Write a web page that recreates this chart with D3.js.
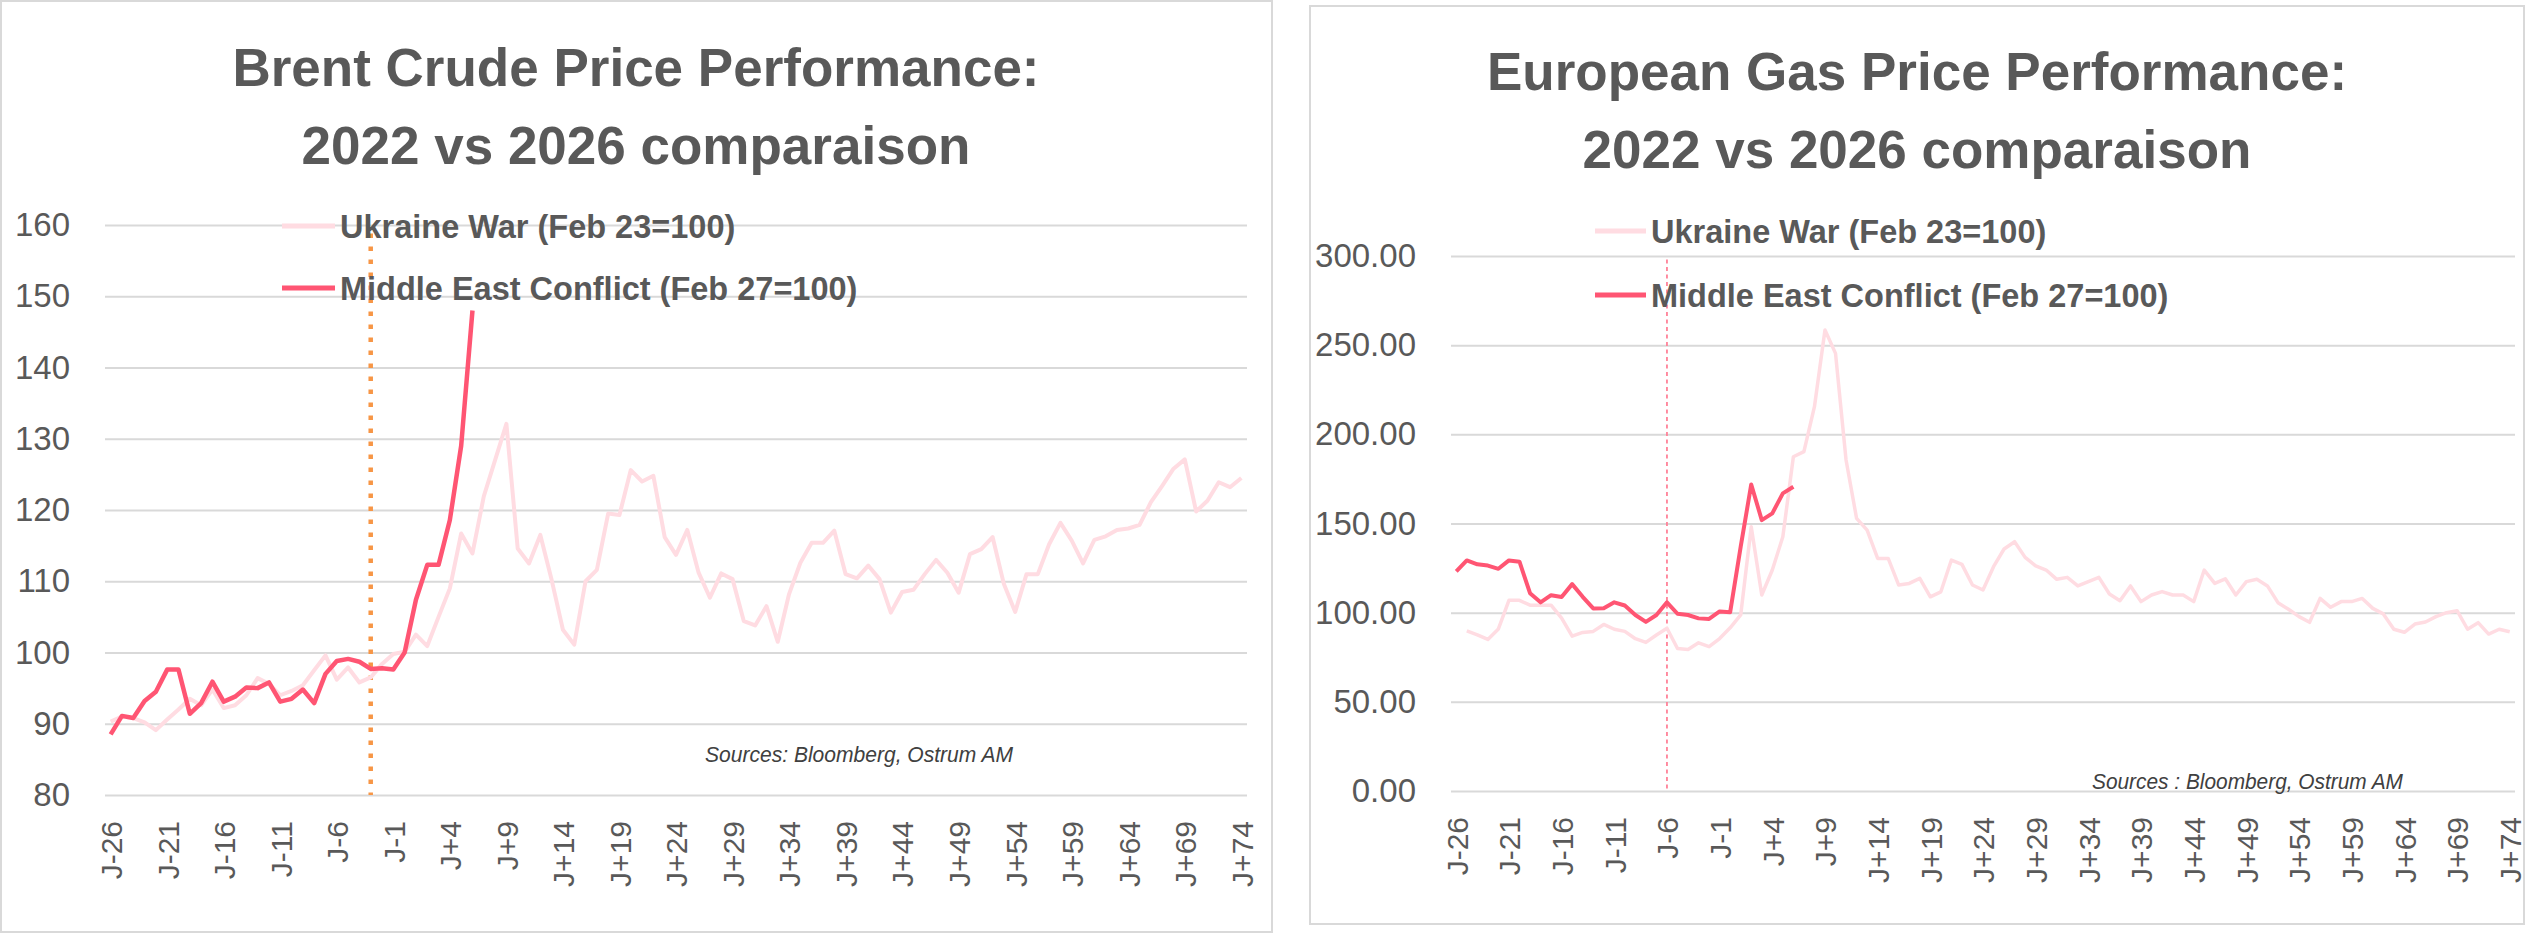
<!DOCTYPE html>
<html>
<head>
<meta charset="utf-8">
<title>Brent and European gas: 2022 vs 2026</title>
<script src="https://cdnjs.cloudflare.com/ajax/libs/d3/7.8.5/d3.min.js"></script>
<style>
  html, body { margin: 0; padding: 0; background: #fff; }
  svg text { font-family: "Liberation Sans", Arial, sans-serif; }
</style>
</head>
<body>
<div class="charts-js"></div>
<script>
'use strict';

// Trading days around each event (J = reference day)
var days = [
  "J-26","J-25","J-24","J-23","J-22","J-21","J-20","J-19","J-18","J-17",
  "J-16","J-15","J-14","J-13","J-12","J-11","J-10","J-9","J-8","J-7",
  "J-6","J-5","J-4","J-3","J-2","J-1","J","J+1","J+2","J+3",
  "J+4","J+5","J+6","J+7","J+8","J+9","J+10","J+11","J+12","J+13",
  "J+14","J+15","J+16","J+17","J+18","J+19","J+20","J+21","J+22","J+23",
  "J+24","J+25","J+26","J+27","J+28","J+29","J+30","J+31","J+32","J+33",
  "J+34","J+35","J+36","J+37","J+38","J+39","J+40","J+41","J+42","J+43",
  "J+44","J+45","J+46","J+47","J+48","J+49","J+50","J+51","J+52","J+53",
  "J+54","J+55","J+56","J+57","J+58","J+59","J+60","J+61","J+62","J+63",
  "J+64","J+65","J+66","J+67","J+68","J+69","J+70","J+71","J+72","J+73",
  "J+74"
];

var xTickLabels = [
  "J-26","J-21","J-16","J-11","J-6","J-1","J+4","J+9","J+14","J+19","J+24",
  "J+29","J+34","J+39","J+44","J+49","J+54","J+59","J+64","J+69","J+74"
];

var brentTicks = [80, 90, 100, 110, 120, 130, 140, 150, 160];
var brentTickLabels = ["80", "90", "100", "110", "120", "130", "140", "150", "160"];
var gasTicks = [0, 50, 100, 150, 200, 250, 300];
var gasTickLabels = ["0.00", "50.00", "100.00", "150.00", "200.00", "250.00", "300.00"];

var seriesNames = ["Ukraine War (Feb 23=100)", "Middle East Conflict (Feb 27=100)"];

// Brent, Feb 23 2022 = 100
var brentUkraine = [
  90.3, 91.0, 90.8, 90.2, 89.1, 90.6, 92.0, 93.5, 92.6, 94.8,
  92.2, 92.6, 94.0, 96.4, 95.6, 94.0, 94.6, 95.4, 97.5, 99.6,
  96.2, 97.9, 95.8, 96.5, 98.4, 99.8, 100.1, 102.5, 100.9, 105.0,
  109.0, 116.7, 113.9, 121.9, 127.0, 132.1, 114.6, 112.5, 116.5, 110.2,
  103.2, 101.1, 110.0, 111.6, 119.5, 119.3, 125.6, 124.0, 124.8, 116.2,
  113.7, 117.2, 111.2, 107.7, 111.1, 110.3, 104.4, 103.8, 106.5, 101.5,
  108.2, 112.6, 115.4, 115.4, 117.1, 111.0, 110.4, 112.2, 110.3, 105.6,
  108.5, 108.8, 111.0, 113.0, 111.2, 108.4, 113.8, 114.5, 116.2, 109.6,
  105.7, 111.0, 111.0, 115.2, 118.2, 115.7, 112.5, 115.8, 116.3, 117.2,
  117.4, 117.9, 121.1, 123.4, 125.8, 127.1, 119.8, 121.3, 123.9, 123.2,
  124.5
];

// Brent, Feb 27 2026 = 100
var brentMiddleEast = [
  88.5, 91.1, 90.8, 93.2, 94.5, 97.6, 97.6, 91.4, 92.9, 95.9,
  93.1, 93.8, 95.1, 95.0, 95.8, 93.1, 93.5, 94.8, 92.9, 97.0,
  98.8, 99.1, 98.7, 97.7, 97.8, 97.6, 100.0, 107.4, 112.3, 112.3,
  118.6, 129.0, 148.0
];

// European gas, Feb 23 2022 = 100 (no value on the first day)
var gasUkraine = [
  null, 89.8, 87.6, 85.0, 90.9, 106.9, 106.9, 104.2, 104.2, 104.2,
  97.0, 86.8, 88.9, 89.5, 93.4, 90.7, 89.5, 85.4, 83.3, 87.5,
  91.3, 79.9, 79.4, 83.1, 80.9, 85.5, 91.5, 98.7, 148.2, 109.9,
  123.9, 142.6, 187.4, 190.3, 215.5, 258.5, 245.4, 185.6, 152.9, 146.3,
  130.4, 130.4, 115.5, 116.4, 119.2, 108.9, 111.7, 129.5, 127.1, 115.5,
  112.7, 125.8, 135.7, 139.8, 131.0, 126.2, 123.9, 118.7, 119.8, 115.0,
  117.4, 119.8, 110.5, 106.7, 115.0, 106.2, 109.9, 111.8, 109.9, 109.9,
  106.2, 123.9, 116.4, 119.0, 109.9, 117.4, 118.7, 115.0, 105.6, 101.9,
  97.8, 94.6, 108.0, 103.0, 106.2, 106.2, 108.0, 102.4, 99.3, 90.7,
  89.0, 93.6, 94.8, 97.8, 100.0, 101.1, 90.7, 94.4, 88.0, 90.7,
  89.3
];

// European gas, Feb 27 2026 = 100
var gasMiddleEast = [
  123.1, 129.3, 127.1, 126.4, 124.6, 129.3, 128.6, 110.9, 105.8, 109.8,
  108.8, 116.0, 108.9, 102.4, 102.5, 105.8, 104.0, 98.7, 94.8, 98.7,
  105.8, 99.4, 98.7, 96.8, 96.5, 100.7, 100.3, 137.0, 171.9, 151.9,
  155.7, 166.9, 170.6
];

// Day marked by the dotted vertical line, and how high it reaches
var brentMarker = { day: "J-3", top: 158.8 };
var gasMarker = { day: "J-6", top: 298 };

var App = (function() {

var TEXT = "#595959";
var GRID = "#D9D9D9";
var UKRAINE = "#FFDCE2";
var MIDDLE_EAST = "#FF5573";

function run() {

  var owidth = 2527;
  var oheight = 934;

  var svg = d3.select(".charts-js").append("svg")
    .attr("width", owidth)
    .attr("height", oheight)
    .style("display", "block");

  svg.append("rect")
    .attr("width", owidth)
    .attr("height", oheight)
    .attr("fill", "#fff");

  drawPanel(svg, {
    box: [1, 1, 1272, 932],
    titleX: 636,
    titleY: [86, 164],
    title: ["Brent Crude Price Performance:", "2022 vs 2026 comparaison"],
    xRange: [105, 1247],
    yDomain: [80, 160],
    yRange: [795, 225],
    ticks: brentTicks,
    tickLabels: brentTickLabels,
    ukraine: brentUkraine,
    middleEast: brentMiddleEast,
    widths: [4, 4.5],
    marker: brentMarker,
    markerStyle: { stroke: "#F79646", width: 4.5, dash: "4.5,8.5" },
    legend: { x: 282, len: 53, y: [226, 288] },
    source: { text: "Sources: Bloomberg, Ostrum AM", x: 705, y: 762, len: 308 }
  });

  drawPanel(svg, {
    box: [1310, 6, 2524, 924],
    titleX: 1917,
    titleY: [90, 168],
    title: ["European Gas Price Performance:", "2022 vs 2026 comparaison"],
    xRange: [1451, 2515],
    yDomain: [0, 300],
    yRange: [791, 256],
    ticks: gasTicks,
    tickLabels: gasTickLabels,
    ukraine: gasUkraine,
    middleEast: gasMiddleEast,
    widths: [3.5, 4],
    marker: gasMarker,
    markerStyle: { stroke: "#FF8298", width: 1.8, dash: "4,3.5" },
    legend: { x: 1595, len: 51, y: [231, 295] },
    source: { text: "Sources : Bloomberg, Ostrum AM", x: 2092, y: 789, len: 311 }
  });
}

function drawPanel(svg, opts) {
  var panel = svg.append("g");

  // Frame
  panel.append("rect")
    .attr("x", opts.box[0])
    .attr("y", opts.box[1])
    .attr("width", opts.box[2] - opts.box[0])
    .attr("height", opts.box[3] - opts.box[1])
    .attr("fill", "#fff")
    .attr("stroke", GRID)
    .attr("stroke-width", 2);

  // Title
  panel.selectAll(".title")
    .data(opts.title)
    .enter().append("text")
    .attr("class", "title")
    .attr("x", opts.titleX)
    .attr("y", function(d, i) { return opts.titleY[i]; })
    .attr("text-anchor", "middle")
    .attr("font-size", 53)
    .attr("font-weight", "bold")
    .attr("fill", TEXT)
    .text(function(d) { return d; });

  // Scales
  var x = d3.scalePoint()
    .domain(days)
    .range(opts.xRange)
    .padding(0.5);

  var y = d3.scaleLinear()
    .domain(opts.yDomain)
    .range(opts.yRange);

  // Value axis with gridlines
  var yAxis = d3.axisLeft(y)
    .tickValues(opts.ticks)
    .tickSize(-(opts.xRange[1] - opts.xRange[0]))
    .tickPadding(35)
    .tickFormat(function(d, i) { return opts.tickLabels[i]; });

  var yg = panel.append("g")
    .attr("transform", "translate(" + opts.xRange[0] + ",0)")
    .call(yAxis)
    .attr("font-family", null)
    .attr("font-size", null);
  yg.select(".domain").remove();
  yg.selectAll("line")
    .attr("stroke", GRID)
    .attr("stroke-width", 2);
  yg.selectAll("text")
    .attr("font-size", 33)
    .attr("fill", TEXT);

  // Category axis, one label every 5 days, rotated
  var xAxis = d3.axisBottom(x)
    .tickValues(xTickLabels)
    .tickSize(0);

  var xg = panel.append("g")
    .attr("transform", "translate(0," + opts.yRange[0] + ")")
    .call(xAxis)
    .attr("font-family", null)
    .attr("font-size", null);
  xg.select(".domain").remove();
  xg.selectAll("text")
    .attr("transform", "rotate(-90)")
    .attr("text-anchor", "end")
    .attr("x", -26)
    .attr("y", 0)
    .attr("dy", "0.36em")
    .attr("font-size", 30)
    .attr("fill", TEXT);

  // Dotted marker line
  panel.append("line")
    .attr("x1", x(opts.marker.day))
    .attr("x2", x(opts.marker.day))
    .attr("y1", y(opts.marker.top))
    .attr("y2", y(opts.yDomain[0]))
    .attr("stroke", opts.markerStyle.stroke)
    .attr("stroke-width", opts.markerStyle.width)
    .attr("stroke-dasharray", opts.markerStyle.dash);

  // Series
  var line = d3.line()
    .defined(function(d) { return d.v != null; })
    .x(function(d) { return x(d.day); })
    .y(function(d) { return y(d.v); });

  function points(values) {
    return values.map(function(v, i) { return { day: days[i], v: v }; });
  }

  panel.append("path")
    .datum(points(opts.ukraine))
    .attr("fill", "none")
    .attr("stroke", UKRAINE)
    .attr("stroke-width", opts.widths[0])
    .attr("stroke-linejoin", "round")
    .attr("d", line);

  panel.append("path")
    .datum(points(opts.middleEast))
    .attr("fill", "none")
    .attr("stroke", MIDDLE_EAST)
    .attr("stroke-width", opts.widths[1])
    .attr("stroke-linejoin", "round")
    .attr("d", line);

  // Legend
  var colors = [UKRAINE, MIDDLE_EAST];
  var legend = panel.selectAll(".legend")
    .data(seriesNames)
    .enter().append("g")
    .attr("class", "legend")
    .attr("transform", function(d, i) { return "translate(" + opts.legend.x + "," + opts.legend.y[i] + ")"; });
  legend.append("line")
    .attr("x1", 0)
    .attr("x2", opts.legend.len)
    .attr("stroke", function(d, i) { return colors[i]; })
    .attr("stroke-width", 5);
  legend.append("text")
    .attr("x", opts.legend.len + 5)
    .attr("dy", "0.36em")
    .attr("font-size", 32.5)
    .attr("font-weight", "bold")
    .attr("fill", TEXT)
    .text(function(d) { return d; });

  // Source note
  panel.append("text")
    .attr("x", opts.source.x)
    .attr("y", opts.source.y)
    .attr("font-size", 22)
    .attr("font-style", "italic")
    .attr("font-family", "'Liberation Sans Narrow', 'Liberation Sans', sans-serif")
    .attr("textLength", opts.source.len)
    .attr("lengthAdjust", "spacingAndGlyphs")
    .attr("fill", "#404040")
    .text(opts.source.text);
}

return { run : run };
}());
document.addEventListener('DOMContentLoaded', App.run);
</script>
</body>
</html>
